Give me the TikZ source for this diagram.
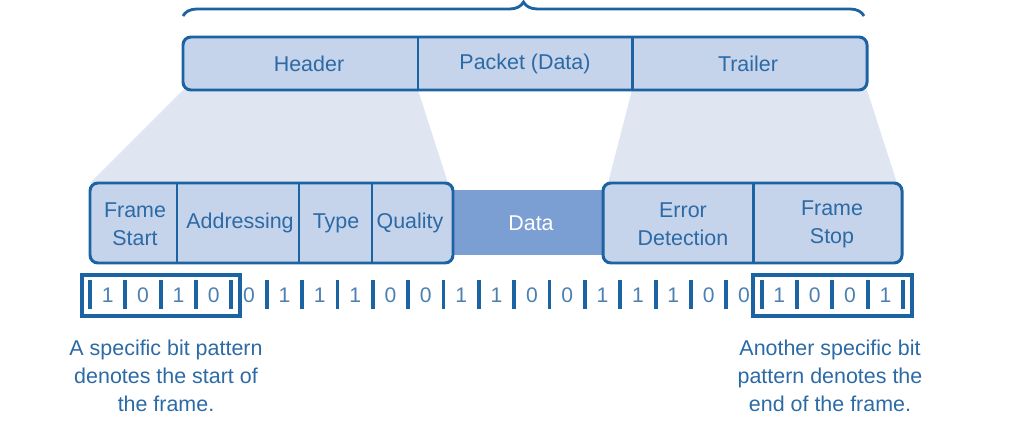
\documentclass[tikz,border=0pt]{standalone}
\usepackage{fontspec}
\setmainfont{Liberation Sans}
\usetikzlibrary{decorations.pathreplacing}
\definecolor{frameblue}{HTML}{1B63A2}
\definecolor{textblue}{HTML}{2C6AA5}
\definecolor{fieldfill}{HTML}{C5D3EB}
\definecolor{fanfill}{HTML}{DFE6F2}
\definecolor{datafill}{HTML}{7B9FD2}
\begin{document}
\begin{tikzpicture}[x=0.02cm, y=-0.02cm,
  field/.style={draw=frameblue, fill=fieldfill, line width=1.7pt, rounded corners=4.5pt},
  divider/.style={draw=frameblue, line width=1.7pt},
  label/.style={text=textblue, font=\fontsize{12.2}{15.8}\selectfont, align=center, inner sep=0pt},
  bit/.style={text=textblue!85, font=\fontsize{12}{14}\selectfont, inner sep=0pt},
  bar/.style={draw=frameblue, line width=2.2pt},
  flagbox/.style={draw=frameblue, line width=2pt}]
\useasboundingbox (0,0) rectangle (1024,432);
% fans from the frame down to the fields
\fill[fanfill] (183,90) -- (418,90) -- (448,183) -- (90,183) -- cycle;
\fill[fanfill] (632,90) -- (867,90) -- (897,183) -- (608,183) -- cycle;
% brace over the frame
\draw[frameblue, line width=1.6pt, decorate, decoration={brace, amplitude=0.28cm}] (183,16) -- (864,16);
% top: header, packet, trailer
\draw[field] (183,37) rectangle (867,90);
\draw[divider] (418,37) -- (418,90);
\draw[divider] (632,37) -- (632,90);
\node[label] (hdr) at (309,63.5) {Header};
\node[label] (pkt) at (525,63.5) {Packet (Data)};
\node[label] (trl) at (748,63.5) {Trailer};
% data in the middle
\fill[datafill] (448,190) rectangle (608,255);
\node[label, text=white] (dat) at (531,223) {Data};
% header fields
\draw[field] (90,183) rectangle (453,263);
\draw[divider] (177,183) -- (177,263);
\draw[divider] (299,183) -- (299,263);
\draw[divider] (372,183) -- (372,263);
\node[label] (fst) at (135,224) {Frame\\Start};
\node[label] (adr) at (240,223) {Addressing};
\node[label] (typ) at (336,223) {Type};
\node[label] (qal) at (410,223) {Quality};
% trailer fields
\draw[field] (603,183) rectangle (902,263);
\draw[divider] (753,183) -- (753,263);
\node[label] (err) at (683,224) {Error\\Detection};
\node[label] (fsp) at (832,224) {Frame\\Stop};
% bit stream
\foreach \j in {0,...,23}
  \draw[bar] ({90+35.35*\j},280) -- ++(0,29);
\foreach \b [count=\i from 0] in {1,0,1,0,0,1,1,1,0,0,1,1,0,0,1,1,1,0,0,1,0,0,1}
  \node[bit] (b\i) at ({107.7+35.35*\i},295.5) {\b};
\draw[flagbox] (82,275) rectangle (240,316);
\draw[flagbox] (753,275) rectangle (912,316);
% notes
\node[label] (nst) at (166,376) {A specific bit pattern\\denotes the start of\\the frame.};
\node[label] (nsp) at (830,376) {Another specific bit\\pattern denotes the\\end of the frame.};
\end{tikzpicture}
\end{document}
